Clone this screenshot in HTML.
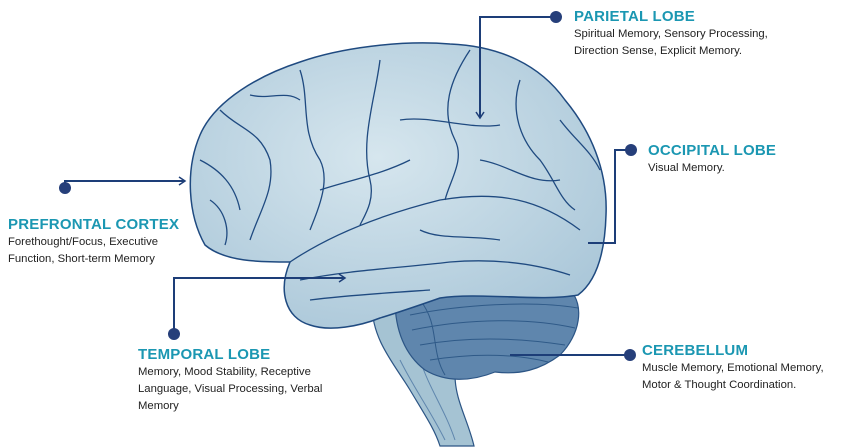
<!DOCTYPE html>
<html><head><meta charset="utf-8"><style>
html,body{margin:0;padding:0;background:#fff;width:846px;height:448px;overflow:hidden;font-family:"Liberation Sans",sans-serif}
.t{position:absolute;color:#1b97b2;font-weight:bold;font-size:15px;letter-spacing:0.2px}
.d{position:absolute;color:#222;font-size:11.3px;line-height:17px}
</style></head><body>
<svg width="846" height="448" style="position:absolute;left:0;top:0">
<defs>
<radialGradient id="g" cx="0.45" cy="0.4" r="0.7"><stop offset="0" stop-color="#d6e6ee"/><stop offset="1" stop-color="#a9c6d8"/></radialGradient>
</defs>
<!-- brainstem -->
<path d="M372,305 C372,340 395,365 410,390 C425,415 435,430 440,446 L474,446 C468,420 455,400 455,375 L455,330 Z" fill="#a5c3d3" stroke="#2c5585" stroke-width="1.2"/>
<g stroke="#5f86ad" stroke-width="1" fill="none"><path d="M400,360 C415,390 430,410 445,440"/><path d="M420,360 C430,390 445,410 455,440"/></g>
<!-- cerebellum -->
<path d="M395,300 C430,285 520,282 570,290 C585,305 580,335 560,355 C540,370 520,375 495,372 C470,382 445,382 425,370 C405,355 395,330 395,300 Z" fill="#5f86ad" stroke="#2c5585" stroke-width="1.2"/>
<g stroke="#2f5a88" stroke-width="1" fill="none">
<path d="M410,315 C460,305 530,300 578,308"/><path d="M412,330 C470,318 530,318 575,328"/><path d="M420,345 C470,336 520,338 565,345"/><path d="M430,360 C480,352 520,355 548,362"/><path d="M420,300 C440,325 430,350 445,375"/>
</g>
<!-- cerebrum -->
<path d="M205,245 C188,215 185,170 200,135 C215,100 260,75 300,62 C340,48 400,40 450,44 C500,46 540,65 565,100 C590,130 608,170 606,215 C605,250 598,280 578,295 C540,302 480,292 440,298 C420,305 400,312 380,318 C360,326 330,332 310,325 C285,318 278,290 290,262 C260,262 225,262 205,245 Z" fill="url(#g)" stroke="#1f4a80" stroke-width="1.5"/>
<g stroke="#1f4a80" stroke-width="1.3" fill="none">
<path d="M290,262 C330,235 380,215 440,200 C500,190 540,200 580,230"/>
<path d="M300,280 C350,270 400,268 450,262 C500,258 540,265 570,275"/>
<path d="M310,300 C350,295 400,292 430,290"/>
<path d="M380,60 C375,100 360,140 370,180 C375,200 365,215 360,225"/>
<path d="M470,50 C450,80 440,110 455,140 C465,160 450,180 445,200"/>
<path d="M300,70 C310,100 300,130 320,160 C330,180 320,205 310,230"/>
<path d="M220,110 C240,130 260,130 270,160 C275,190 260,210 250,240"/>
<path d="M200,160 C220,170 235,185 240,210"/>
<path d="M520,80 C510,110 520,140 540,160 C555,180 560,200 575,210"/>
<path d="M400,120 C430,115 470,130 500,125"/>
<path d="M320,190 C350,180 380,175 410,160"/>
<path d="M480,160 C510,165 530,185 560,180"/>
<path d="M250,95 C270,100 285,90 300,100"/>
<path d="M560,120 C575,140 590,150 600,170"/>
<path d="M210,200 C225,210 230,230 225,245"/>
<path d="M420,230 C440,240 470,235 500,240"/>
</g>
<!-- connectors -->
<g stroke="#1d3e78" stroke-width="2" fill="none">
<path d="M65,188 V181 H184"/>
<path d="M556,17 H480 V117"/>
<path d="M631,150 H615 V243 H588"/>
<path d="M174,334 V278 H344"/>
<path d="M630,355 H510"/>
</g>
<g stroke="#1d3e78" stroke-width="1.5" fill="none">
<path d="M179,177 L185,181 L179,185"/><path d="M476,112 L480,118 L484,112"/><path d="M339,274 L345,278 L339,282"/>
</g>
<g fill="#263f7a">
<circle cx="65" cy="188" r="6"/><circle cx="556" cy="17" r="6"/><circle cx="631" cy="150" r="6"/><circle cx="174" cy="334" r="6"/><circle cx="630" cy="355" r="6"/>
</g>
</svg>
<div class="t" style="left:8px;top:216px">PREFRONTAL CORTEX</div>
<div class="d" style="left:8px;top:234px">Forethought/Focus, Executive<br>Function, Short-term Memory</div>
<div class="t" style="left:574px;top:8px">PARIETAL LOBE</div>
<div class="d" style="left:574px;top:26px">Spiritual Memory, Sensory Processing,<br>Direction Sense, Explicit Memory.</div>
<div class="t" style="left:648px;top:142px">OCCIPITAL LOBE</div>
<div class="d" style="left:648px;top:160px">Visual Memory.</div>
<div class="t" style="left:138px;top:346px">TEMPORAL LOBE</div>
<div class="d" style="left:138px;top:364px">Memory, Mood Stability, Receptive<br>Language, Visual Processing, Verbal<br>Memory</div>
<div class="t" style="left:642px;top:342px">CEREBELLUM</div>
<div class="d" style="left:642px;top:360px">Muscle Memory, Emotional Memory,<br>Motor &amp; Thought Coordination.</div>
</body></html>
